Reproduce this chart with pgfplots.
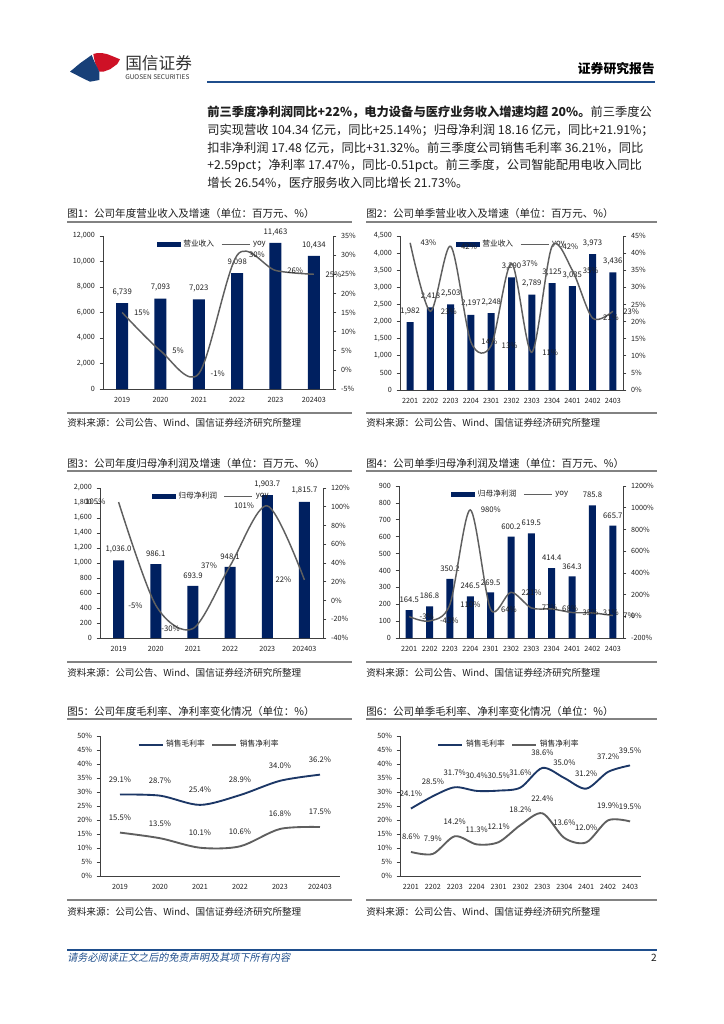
\documentclass[border=0pt]{standalone}
\usepackage{pgfplots}
\pgfplotsset{compat=1.18}
\usepackage{fontspec}
\setmainfont{Noto Sans CJK SC}
\newfontfamily\slantfont{Noto Sans CJK SC}[FakeSlant=0.2]
\definecolor{navy}{RGB}{0,32,96}
\definecolor{yoygray}{RGB}{95,95,95}
\definecolor{gmblue}{RGB}{28,55,102}
\definecolor{hdrblue}{RGB}{31,78,140}
\definecolor{logored}{RGB}{206,17,38}
\definecolor{logoblue}{RGB}{24,64,120}
\definecolor{rulegray}{RGB}{130,130,130}
\definecolor{txt}{RGB}{30,30,30}

\pgfplotsset{
  base/.style={
    scale only axis, anchor=south west, clip=false,
    scaled y ticks=false,
    tick label style={font=\fontsize{5.4}{6}\selectfont, text=txt},
    /pgf/number format/assume math mode=true,
    /pgf/number format/1000 sep={,},
    axis line style={black!75, line width=0.7pt},
    tick style={black!75, line width=0.5pt},
    major tick length=2.5pt,
    tick align=outside,
    every node near coord/.append style={font=\fontsize{5.8}{6}\selectfont, text=txt},
    legend style={draw=none, fill=none, legend columns=2, font=\fontsize{5.8}{6}\selectfont,
      /tikz/every even column/.append style={column sep=3pt}, inner sep=0pt, text=txt},
    legend cell align=left,
  },
  barax/.style={base, axis y line*=left, axis x line*=bottom, x tick style={draw=none}},
  rightax/.style={base, axis y line*=right, axis x line=none,
    /pgf/number format/1000 sep={},
    yticklabel={\pgfmathprintnumber{\tick}\%}},
  barleg/.style={legend image code/.code={\fill[navy] (0pt,-1.9pt) rectangle (18pt,1.9pt);}},
  yoyleg/.style={legend image code/.code={\draw[yoygray, line width=1.1pt] (0pt,0pt) -- (21pt,0pt);}},
  ann/.style={legend image code/.code={\draw[gmblue, line width=1.4pt] (0pt,0pt) -- (18pt,0pt);}},
  ann2/.style={legend image code/.code={\draw[yoygray, line width=1.4pt] (0pt,0pt) -- (18pt,0pt);}},
}

\begin{document}
\begin{tikzpicture}
\begin{scope}[x=0.75pt,y=-0.75pt]
\fill[white] (0,0) rectangle (724,1024);
\path[use as bounding box] (0,0) rectangle (724,1024);
% logo
\fill[logored] (93.3,54) .. controls (98,52) and (106,53) .. (112,56) -- (120,59.3) -- (117.3,64) -- (110,69.3) -- (103.3,71.7) -- (99.3,71.7) .. controls (96,67) and (94,60) .. cycle;
\fill[logoblue] (70,71.7) -- (80,63.3) -- (91.7,55) .. controls (94,62) and (97,66) .. (99.3,72) -- (99.3,80) -- (90,81.7) -- (85,79.3) -- cycle;
\node[anchor=west, inner sep=0pt, text=black!80] at (125,63) {\fontsize{12.5}{13}\selectfont 国信证券};
\node[anchor=west, inner sep=0pt, text=black!80] at (125,77.5) {\fontsize{4.9}{5}\selectfont GUOSEN SECURITIES};
\node[anchor=east, inner sep=0pt] at (655,69) {\fontsize{9.6}{10}\selectfont\bfseries 证券研究报告};
\draw[hdrblue, line width=1.6pt] (207,82) -- (655,82);
% body text
\begin{scope}[every node/.style={anchor=base west, inner sep=0pt, text=txt, font=\fontsize{9.2}{11}\selectfont}]
\node at (207,117) {{\bfseries 前三季度净利润同比+22\%，电力设备与医疗业务收入增速均超 20\%。}前三季度公};
\node at (207,134.5) {司实现营收 104.34 亿元，同比+25.14\%；归母净利润 18.16 亿元，同比+21.91\%；};
\node at (207,152) {扣非净利润 17.48 亿元，同比+31.32\%。前三季度公司销售毛利率 36.21\%，同比};
\node at (207,169.5) {+2.59pct；净利率 17.47\%，同比-0.51pct。前三季度，公司智能配用电收入同比};
\node at (207,187) {增长 26.54\%，医疗服务收入同比增长 21.73\%。};
\end{scope}
% titles and rules
\begin{scope}[every node/.style={anchor=west, inner sep=0pt, text=txt, font=\fontsize{7.9}{9}\selectfont}]
\node at (67,213) {图1：公司年度营业收入及增速（单位：百万元、\%）};
\node at (366,213) {图2：公司单季营业收入及增速（单位：百万元、\%）};
\node at (67,463) {图3：公司年度归母净利润及增速（单位：百万元、\%）};
\node at (366,463) {图4：公司单季归母净利润及增速（单位：百万元、\%）};
\node at (67,711) {图5：公司年度毛利率、净利率变化情况（单位：\%）};
\node at (366,711) {图6：公司单季毛利率、净利率变化情况（单位：\%）};
\end{scope}
\begin{scope}[rulegray, line width=1.1pt]
\draw (67,222) -- (352,222); \draw (366,222) -- (657,222);
\draw (67,413) -- (352,413); \draw (366,413) -- (657,413);
\draw (67,471) -- (352,471); \draw (366,471) -- (657,471);
\draw (67,662) -- (352,662); \draw (366,662) -- (657,662);
\draw (67,719) -- (352,719); \draw (366,719) -- (657,719);
\draw (67,900) -- (352,900); \draw (366,900) -- (657,900);
\end{scope}
\begin{scope}[every node/.style={anchor=west, inner sep=0pt, text=txt, font=\fontsize{7.2}{8}\selectfont}]
\node at (67,423) {资料来源：公司公告、Wind、国信证券经济研究所整理};
\node at (366,423) {资料来源：公司公告、Wind、国信证券经济研究所整理};
\node at (67,673) {资料来源：公司公告、Wind、国信证券经济研究所整理};
\node at (366,673) {资料来源：公司公告、Wind、国信证券经济研究所整理};
\node at (67,912) {资料来源：公司公告、Wind、国信证券经济研究所整理};
\node at (366,912) {资料来源：公司公告、Wind、国信证券经济研究所整理};
\end{scope}
% footer
\draw[hdrblue, line width=0.8pt] (67,950) -- (657,950);
\node[anchor=west, inner sep=0pt, text=hdrblue] at (67,958) {\slantfont\fontsize{7.6}{8}\selectfont 请务必阅读正文之后的免责声明及其项下所有内容};
\node[anchor=east, inner sep=0pt, text=txt] at (657,958) {\fontsize{7.6}{8}\selectfont 2};
\end{scope}

% ================= Chart 1 =================
\begin{axis}[barax, at={(77.25pt,-291.75pt)}, width=172.5pt, height=114.75pt,
  xmin=-0.5, xmax=5.5, ymin=0, ymax=12000, ytick={0,2000,...,12000},
  xtick={0,...,5}, xticklabels={2019,2020,2021,2022,2023,202403},
  legend style={at={(0.476,0.99)}, anchor=north}]
\addplot[ybar, bar width=9pt, fill=navy, draw=none, barleg, nodes near coords,
  every node near coord/.append style={yshift=2pt}] table {
x y
0 6739
1 7093
2 7023
3 9098
4 11463
5 10434
};
\addlegendentry{营业收入}
\addlegendimage{yoyleg}
\addlegendentry{yoy}
\end{axis}
\begin{axis}[rightax, at={(77.25pt,-291.75pt)}, width=172.5pt, height=114.75pt,
  xmin=-0.5, xmax=5.5, ymin=-5, ymax=35, ytick={-5,0,...,35}]
\addplot[yoygray, line width=1.1pt, smooth, point meta=y,
  nodes near coords={\pgfmathprintnumber{\pgfplotspointmeta}\%},
  every node near coord/.append style={anchor=west, xshift=5pt}] table {
x y
0 15
1 5
2 -1
3 30
4 26
5 25
};
\end{axis}

% ================= Chart 2 =================
\begin{axis}[barax, at={(300pt,-292.5pt)}, width=167.25pt, height=115.5pt,
  xmin=-0.5, xmax=10.5, ymin=0, ymax=4500, ytick={0,500,...,4500},
  xtick={0,...,10}, xticklabels={2201,2202,2203,2204,2301,2302,2303,2304,2401,2402,2403},
  legend style={at={(0.5,0.99)}, anchor=north}]
\addplot[ybar, bar width=5.25pt, fill=navy, draw=none, barleg, nodes near coords,
  every node near coord/.append style={yshift=2pt}] table {
x y
0 1982
1 2418
2 2503
3 2197
4 2248
5 3290
6 2789
7 3125
8 3035
9 3973
10 3436
};
\addlegendentry{营业收入}
\addlegendimage{yoyleg}
\addlegendentry{yoy}
\end{axis}
\begin{axis}[rightax, at={(300pt,-292.5pt)}, width=167.25pt, height=115.5pt,
  xmin=-0.5, xmax=10.5, ymin=0, ymax=45, ytick={0,5,...,45}]
\addplot[yoygray, line width=1.1pt, smooth, point meta=y,
  nodes near coords={\pgfmathprintnumber{\pgfplotspointmeta}\%},
  every node near coord/.append style={anchor=west, xshift=4pt}] table {
x y
0 43
1 23
2 42
3 14
4 13
5 37
6 11
7 42
8 35
9 21
10 23
};
\end{axis}

% ================= Chart 3 =================
\begin{axis}[barax, at={(75pt,-478.5pt)}, width=167.25pt, height=112.5pt,
  xmin=-0.5, xmax=5.5, ymin=0, ymax=2000, ytick={0,200,...,2000},
  xtick={0,...,5}, xticklabels={2019,2020,2021,2022,2023,202403},
  legend style={at={(0.5,0.99)}, anchor=north}]
\addplot[ybar, bar width=8.25pt, fill=navy, draw=none, barleg, nodes near coords={\pgfmathprintnumber[fixed,fixed zerofill,precision=1]{\pgfplotspointmeta}},
  every node near coord/.append style={yshift=2pt}] table {
x y
0 1036.0
1 986.1
2 693.9
3 948.1
4 1903.7
5 1815.7
};
\addlegendentry{归母净利润}
\addlegendimage{yoyleg}
\addlegendentry{yoy}
\end{axis}
\begin{axis}[rightax, at={(75pt,-478.5pt)}, width=167.25pt, height=112.5pt,
  xmin=-0.5, xmax=5.5, ymin=-40, ymax=120, ytick={-40,-20,...,120}]
\addplot[yoygray, line width=1.1pt, smooth, point meta=y,
  nodes near coords={\pgfmathprintnumber{\pgfplotspointmeta}\%},
  every node near coord/.append style={anchor=east, xshift=-6pt}] table {
x y
0 105
1 -5
2 -30
3 37
4 101
5 22
};
\end{axis}

% ================= Chart 4 =================
\begin{axis}[barax, at={(299.25pt,-478.5pt)}, width=168pt, height=114pt,
  xmin=-0.5, xmax=10.5, ymin=0, ymax=900, ytick={0,100,...,900},
  xtick={0,...,10}, xticklabels={2201,2202,2203,2204,2301,2302,2303,2304,2401,2402,2403},
  legend style={at={(0.5,0.99)}, anchor=north}]
\addplot[ybar, bar width=5.25pt, fill=navy, draw=none, barleg, nodes near coords={\pgfmathprintnumber[fixed,fixed zerofill,precision=1]{\pgfplotspointmeta}},
  every node near coord/.append style={yshift=2pt}] table {
x y
0 164.5
1 186.8
2 350.2
3 246.5
4 269.5
5 600.2
6 619.5
7 414.4
8 364.3
9 785.8
10 665.7
};
\addlegendentry{归母净利润}
\addlegendimage{yoyleg}
\addlegendentry{yoy}
\end{axis}
\begin{axis}[rightax, at={(299.25pt,-478.5pt)}, width=168pt, height=114pt,
  xmin=-0.5, xmax=10.5, ymin=-200, ymax=1200, ytick={-200,0,...,1200}]
\addplot[yoygray, line width=1.1pt, smooth, point meta=y,
  nodes near coords={\pgfmathprintnumber{\pgfplotspointmeta}\%},
  every node near coord/.append style={anchor=west, xshift=4pt}] table {
x y
0 -3
1 -43
2 110
3 980
4 64
5 221
6 77
7 68
8 35
9 31
10 7
};
\end{axis}

% ================= Chart 5 =================
\begin{axis}[barax, at={(75pt,-657pt)}, width=180pt, height=105pt,
  xmin=-0.5, xmax=5.5, ymin=0, ymax=50, ytick={0,5,...,50},
  yticklabel={\pgfmathprintnumber{\tick}\%},
  xtick={0,...,5}, xticklabels={2019,2020,2021,2022,2023,202403},
  legend style={at={(0.456,0.99)}, anchor=north},
  every node near coord/.append style={anchor=south, yshift=5pt}]
\addplot[gmblue, line width=1.4pt, smooth, ann, point meta=y,
  nodes near coords={\pgfmathprintnumber[fixed,fixed zerofill,precision=1]{\pgfplotspointmeta}\%}] table {
x y
0 29.1
1 28.7
2 25.4
3 28.9
4 34.0
5 36.2
};
\addlegendentry{销售毛利率}
\addplot[yoygray, line width=1.4pt, smooth, ann2, point meta=y,
  nodes near coords={\pgfmathprintnumber[fixed,fixed zerofill,precision=1]{\pgfplotspointmeta}\%}] table {
x y
0 15.5
1 13.5
2 10.1
3 10.6
4 16.8
5 17.5
};
\addlegendentry{销售净利率}
\end{axis}

% ================= Chart 6 =================
\begin{axis}[barax, at={(300pt,-657pt)}, width=180.75pt, height=105pt,
  xmin=-0.5, xmax=10.5, ymin=0, ymax=50, ytick={0,5,...,50},
  yticklabel={\pgfmathprintnumber{\tick}\%},
  xtick={0,...,10}, xticklabels={2201,2202,2203,2204,2301,2302,2303,2304,2401,2402,2403},
  legend style={at={(0.454,0.99)}, anchor=north},
  every node near coord/.append style={anchor=south, yshift=5pt}]
\addplot[gmblue, line width=1.4pt, smooth, ann, point meta=y,
  nodes near coords={\pgfmathprintnumber[fixed,fixed zerofill,precision=1]{\pgfplotspointmeta}\%}] table {
x y
0 24.1
1 28.5
2 31.7
3 30.4
4 30.5
5 31.6
6 38.6
7 35.0
8 31.2
9 37.2
10 39.5
};
\addlegendentry{销售毛利率}
\addplot[yoygray, line width=1.4pt, smooth, ann2, point meta=y,
  nodes near coords={\pgfmathprintnumber[fixed,fixed zerofill,precision=1]{\pgfplotspointmeta}\%}] table {
x y
0 8.6
1 7.9
2 14.2
3 11.3
4 12.1
5 18.2
6 22.4
7 13.6
8 12.0
9 19.9
10 19.5
};
\addlegendentry{销售净利率}
\end{axis}
\end{tikzpicture}
\end{document}
